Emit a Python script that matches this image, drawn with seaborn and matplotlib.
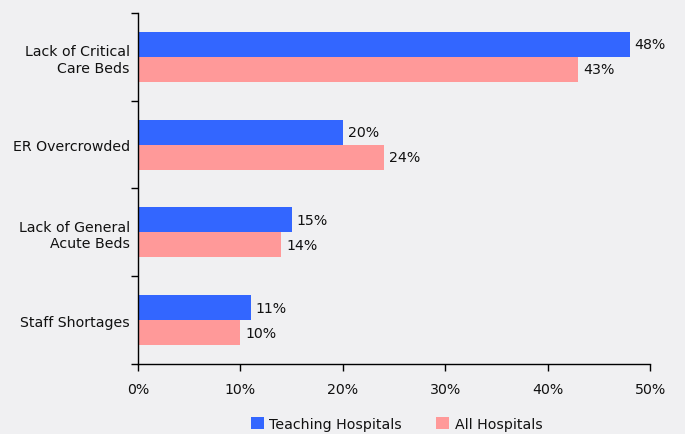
import pandas as pd
import numpy as np
import matplotlib
matplotlib.use('Agg')
import matplotlib.pyplot as plt
import seaborn as sns

categories = ['Lack of Critical\nCare Beds', 'ER Overcrowded', 'Lack of General\nAcute Beds', 'Staff Shortages']
teaching = [48, 20, 15, 11]
all_hosp = [43, 24, 14, 10]
series = ['Teaching Hospitals', 'All Hospitals']
colors = ['#3366FF', '#FF9999']

df = pd.DataFrame({
    'cause': categories * 2,
    'value': teaching + all_hosp,
    'group': [series[0]] * 4 + [series[1]] * 4,
})

sns.set_style('white')
plt.rcParams['font.family'] = ['DejaVu Sans']
plt.rcParams['text.color'] = '#111111'
plt.rcParams['xtick.color'] = 'black'
plt.rcParams['ytick.color'] = 'black'
plt.rcParams['xtick.labelcolor'] = '#111111'
plt.rcParams['ytick.labelcolor'] = '#111111'
bg = '#F0F0F2'
fs = 10.2

fig = plt.figure(figsize=(6.85, 4.35), dpi=100, facecolor=bg)
ax = fig.add_axes([0.2015, 0.161, 0.7475, 0.807])
ax.set_facecolor(bg)

sns.barplot(data=df, x='value', y='cause', hue='group', orient='h',
            palette=colors, width=0.57, saturation=1, ax=ax, legend=True,
            linewidth=0, edgecolor='none')

for c in ax.containers:
    ax.bar_label(c, labels=[f'{v:.0f}%' for v in c.datavalues], padding=3.5, fontsize=fs, color='#111111')

ax.set_xlim(0, 50)
ax.set_ylim(3.5, -0.5)
ax.set_xticks(np.arange(0, 51, 10))
ax.set_xticklabels([f'{v}%' for v in range(0, 51, 10)], fontsize=fs)
ax.set_yticks(range(4))
ax.set_yticklabels(categories, fontsize=fs)
ax.tick_params(axis='y', which='major', length=0, pad=6, left=False)
ax.set_yticks(np.arange(-0.5, 4, 1), minor=True)
ax.tick_params(axis='y', which='minor', length=5, direction='out', width=1, left=True)
ax.tick_params(axis='x', length=5, direction='out', width=1, pad=8, bottom=True)
ax.set_xlabel('')
ax.set_ylabel('')
for s in ['top', 'right']:
    ax.spines[s].set_visible(False)
for s in ['left', 'bottom']:
    ax.spines[s].set_color('black')
    ax.spines[s].set_linewidth(1)

ax.legend(loc='upper center', bbox_to_anchor=(0.505, -0.115), ncol=2, frameon=False,
          fontsize=fs, handlelength=0.9, handleheight=0.9, columnspacing=2.4, handletextpad=0.4)

fig.savefig('out.png', dpi=100, facecolor=bg)
